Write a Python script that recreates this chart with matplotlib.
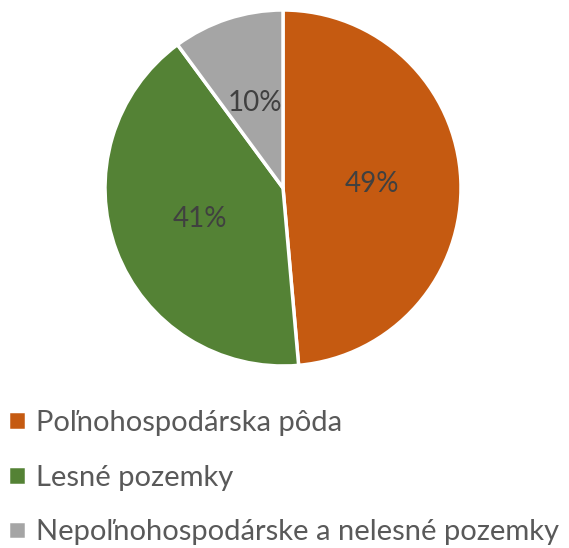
import matplotlib
matplotlib.use("Agg")
import matplotlib.pyplot as plt

categories = ["Poľnohospodárska pôda", "Lesné pozemky", "Nepoľnohospodárske a nelesné pozemky"]
shares = [48.6, 41.3, 10.1]
colors = ["#C55A11", "#548235", "#A5A5A5"]

plt.rcParams['font.family'] = ['Lato', 'DejaVu Sans']

W, H = 569, 548
fig = plt.figure(figsize=(W / 100, H / 100), dpi=100)

# pie centre (283, 188) px, radius 178 px
cx, cy, r = 283, 188, 178
ax = fig.add_axes([(cx - r) / W, (H - cy - r) / H, 2 * r / W, 2 * r / H])
wedges, _, autotexts = ax.pie(shares, colors=colors, startangle=90, counterclock=False,
                              radius=1, autopct="%.0f%%", pctdistance=0.5,
                              wedgeprops=dict(edgecolor="white", linewidth=2.5),
                              textprops=dict(fontsize=20, color="#404040"))
ax.set_xlim(-1, 1)
ax.set_ylim(-1, 1)
ax.set_aspect("equal")

fig.legend(wedges, categories, loc="upper left", bbox_to_anchor=(8 / W, 1 - 410 / H),
           frameon=False, fontsize=21, handlelength=0.6, handleheight=0.6,
           handletextpad=0.35, labelspacing=0.98, labelcolor="#595959",
           borderpad=0, borderaxespad=0)

fig.savefig("out.png", dpi=100)
